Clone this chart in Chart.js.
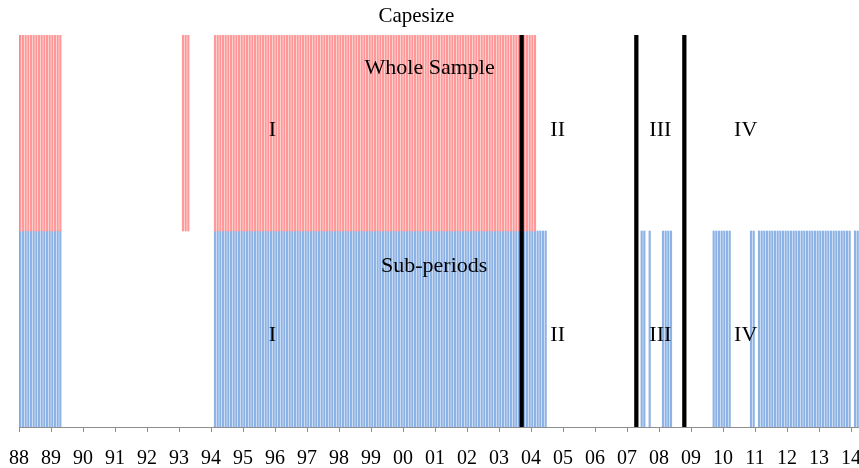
<!DOCTYPE html>
<html>
<head>
<meta charset="utf-8">
<script src="https://cdn.jsdelivr.net/npm/chart.js@4.4.1/dist/chart.umd.min.js"></script>
<style>
  html, body { margin: 0; padding: 0; background: #fff; }
  #wrap { width: 859px; height: 468px; }
</style>
</head>
<body>
<div id="wrap"><canvas id="chart" width="859" height="468"></canvas></div>
<script>
// monthly axis: Jan 1988 - Mar 2014
const firstYear = 1988;
const monthCount = 315;
const yearTicks = ['88', '89', '90', '91', '92', '93', '94', '95', '96', '97', '98', '99',
  '00', '01', '02', '03', '04', '05', '06', '07', '08', '09', '10', '11', '12', '13', '14'];

// months flagged in the whole sample test (start, end inclusive)
const wholeSample = [
  ['1988-01', '1989-04'],
  ['1993-02', '1993-04'],
  ['1994-02', '2004-02'],
];

// months flagged in the sub-period tests
const subPeriods = [
  ['1988-01', '1989-04'],
  ['1994-02', '2004-06'],
  ['2007-06', '2007-07'],
  ['2007-09', '2007-09'],
  ['2008-02', '2008-05'],
  ['2009-09', '2010-03'],
  ['2010-11', '2010-12'],
  ['2011-02', '2013-12'],
  ['2014-02', '2014-03'],
];

// structural breaks
const breakMonths = ['2003-09', '2007-04', '2008-10'];

const periodNames = ['I', 'II', 'III', 'IV'];

function monthIndex(s) {
  const [y, m] = s.split('-').map(Number);
  return (y - firstYear) * 12 + (m - 1);
}

function flaggedMonths(ranges) {
  const out = [];
  ranges.forEach(([a, b]) => {
    for (let i = monthIndex(a); i <= monthIndex(b); i++) out.push(i);
  });
  return out;
}

const blueData = flaggedMonths(subPeriods).map(i => ({ x: i + 0.5, y: 1 }));
const redData = flaggedMonths(wholeSample).map(i => ({ x: i + 0.5, y: [1, 2] }));
const breakData = breakMonths.map(s => ({ x: monthIndex(s) + 0.5, y: 2 }));

// label spots, in axis units (months, y value)
const labelSpots = [
  { text: 'Capesize', x: 149, y: 2.067, size: 21 },
  { text: 'Whole Sample', x: 154, y: 1.80, size: 22 },
  { text: 'Sub-periods', x: 155.7, y: 0.79, size: 22 },
];
const periodX = [95, 202, 240.5, 272.5];
const periodY = [1.483, 0.437];

const textPlugin = {
  id: 'textPlugin',
  afterDraw(chart) {
    const { ctx, scales } = chart;
    ctx.save();
    ctx.fillStyle = '#000';
    ctx.textAlign = 'center';
    ctx.textBaseline = 'alphabetic';
    labelSpots.forEach(l => {
      ctx.font = l.size + 'px "Liberation Serif"';
      ctx.fillText(l.text, scales.x.getPixelForValue(l.x), scales.y.getPixelForValue(l.y));
    });
    ctx.font = '22px "Liberation Serif"';
    periodY.forEach(py => {
      periodNames.forEach((name, i) => {
        ctx.fillText(name, scales.x.getPixelForValue(periodX[i]), scales.y.getPixelForValue(py));
      });
    });
    ctx.restore();
  }
};

const ctx = document.getElementById('chart').getContext('2d');
const myChart = new Chart(ctx, {
  type: 'bar',
  data: {
    datasets: [
      {
        label: 'Breaks',
        data: breakData,
        backgroundColor: '#000',
        barThickness: 3.6,
        grouped: false,
      },
      {
        label: 'Whole Sample',
        data: redData,
        backgroundColor: 'rgb(255, 152, 152)',
        barThickness: 1.5,
        grouped: false,
      },
      {
        label: 'Sub-periods',
        data: blueData,
        backgroundColor: 'rgb(140, 178, 230)',
        barThickness: 1.5,
        grouped: false,
      },
    ],
  },
  options: {
    responsive: false,
    animation: false,
    layout: { padding: { left: 19, right: 0, top: 35, bottom: 0 } },
    plugins: {
      legend: { display: false },
      tooltip: { enabled: false },
      title: { display: false },
    },
    scales: {
      x: {
        type: 'linear',
        offset: false,
        min: 0,
        max: monthCount,
        afterBuildTicks: (s) => {
          s.ticks = yearTicks.map((t, i) => ({ value: i * 12 }));
        },
        afterFit: (s) => {
          s.paddingLeft = 0;
          s.paddingRight = 0;
          s.height = 41;
        },
        ticks: {
          autoSkip: false,
          maxRotation: 0,
          padding: 15,
          color: '#000',
          font: { family: 'Liberation Serif', size: 20 },
          callback: (v, i) => yearTicks[i],
        },
        grid: { offset: false, drawOnChartArea: false, tickLength: 5, color: '#8e8e8e' },
        border: { color: '#8e8e8e' },
      },
      y: {
        min: 0,
        max: 2,
        ticks: { display: false },
        grid: { display: false, drawTicks: false },
        border: { color: '#8e8e8e' },
      },
    },
  },
  plugins: [textPlugin],
});
</script>
</body>
</html>
